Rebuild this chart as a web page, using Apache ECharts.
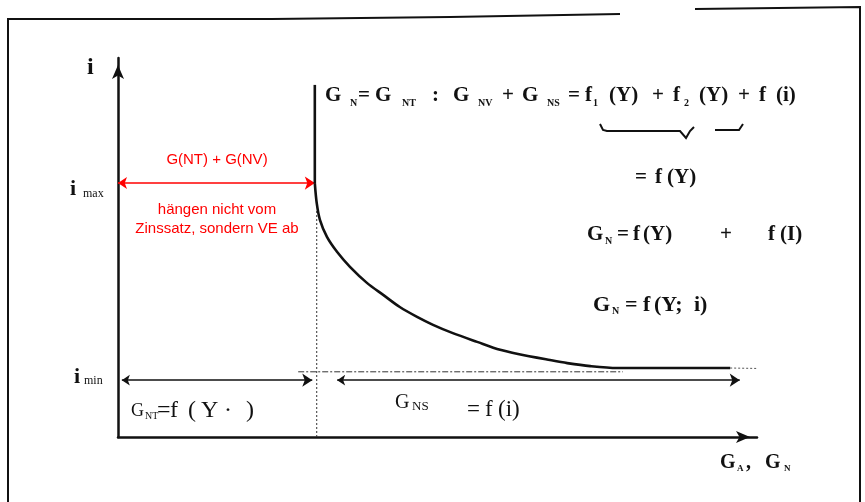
<!DOCTYPE html>
<html>
<head>
<meta charset="utf-8">
<script src="https://cdn.jsdelivr.net/npm/echarts@6/dist/echarts.min.js"></script>
<style>
  html, body { margin: 0; padding: 0; background: #ffffff; }
  #chart { width: 865px; height: 502px; }
</style>
</head>
<body>
<div id="chart"></div>
<script>
// Geldnachfrage G_N in Abhängigkeit vom Zinssatz i (Achsen ohne Skala, 0–100)
const verticalG = [30.8, 30.8];
const verticalI = [92.9, 67.0];
const demandG = [30.8, 31.1, 31.6, 32.7, 34.3, 36.3, 39.0, 41.5, 44.1, 46.8, 49.3, 52.4, 56.2, 59.8, 62.6, 67.6, 70.3, 73.9, 78.1, 95.8];
const demandI = [67.0, 61.7, 57.3, 52.8, 48.8, 44.9, 40.6, 37.5, 34.3, 31.7, 29.6, 27.4, 25.1, 23.0, 21.9, 20.3, 19.5, 18.7, 18.2, 18.2];
const tailG = [95.8, 103.3];
const tailI = [18.2, 18.0];

// Zinsniveaus, Transaktions-/Vorsichtskasse und Spekulationskasse
const iMax = 67.0;
const iMin = 17.2;
const gNT = 30.8;
const iMinLineG = [28.2, 79.0];
const bracketI = 15.0;
const bracketNT = [0.6, 30.4];
const bracketNS = [34.3, 97.3];
const dropLineG = 31.1;
const dropLineI = [0, 60.0];

const zip = (xs, ys) => xs.map((x, k) => [x, ys[k]]);

const SERIF = '"Liberation Serif", "DejaVu Serif", serif';
const SANS = '"Liberation Sans", Arial, sans-serif';
const INK = '#111111';

// einzelnes Textstück (Formelteil) an fester Position
function piece(x, y, text, size, weight) {
  return {
    type: 'text', x: x, y: y, silent: true,
    style: {
      text: text, fontFamily: SERIF, fontSize: size, fontWeight: weight || 'bold', fill: INK,
      align: 'left', textAlign: 'left', verticalAlign: 'middle', textVerticalAlign: 'middle'
    }
  };
}

// Formelzeile: [x, text, istIndex, eigeneGröße, eigenesGewicht]
function formula(y, size, parts, weight, subSize, subDy) {
  return parts.map(p => p[2]
    ? piece(p[0], y + (subDy || 7), p[1], subSize || 10, weight)
    : piece(p[0], y, p[1], p[3] || size, p[4] || weight));
}

function redTxt(x, y, text) {
  return {
    type: 'text', x: x, y: y, silent: true,
    style: {
      text: text, fontFamily: SANS, fontSize: 15, fill: '#ff0000',
      align: 'center', textAlign: 'center', verticalAlign: 'middle', textVerticalAlign: 'middle'
    }
  };
}

const chart = echarts.init(document.getElementById('chart'), null, { renderer: 'canvas' });

const axisCommon = {
  type: 'value', min: 0, max: 100,
  axisLine: { show: true, onZero: false, symbol: ['none', 'arrow'], symbolSize: [9, 14], symbolOffset: [0, -7], lineStyle: { color: INK, width: 2.5 } },
  axisTick: { show: false }, axisLabel: { show: false }, splitLine: { show: false }
};

const option = {
  backgroundColor: '#ffffff',
  animation: false,
  grid: { left: 118, right: 108, top: 58, bottom: 65 },
  xAxis: Object.assign({}, axisCommon),
  yAxis: Object.assign({}, axisCommon),
  series: [
    {
      type: 'line', data: zip(verticalG, verticalI), symbol: 'none', clip: false,
      lineStyle: { color: INK, width: 2.6 }, z: 5
    },
    {
      type: 'line', data: zip(demandG, demandI), smooth: 0.3,
      symbol: 'none', clip: false, lineStyle: { color: INK, width: 2.6 }, z: 5
    },
    {
      type: 'line', data: zip(tailG, tailI), symbol: 'none', clip: false,
      lineStyle: { color: '#555', width: 1, type: [2, 2] }
    },
    {
      type: 'line', data: zip(iMinLineG, [iMin, iMin]), symbol: 'none', clip: false,
      lineStyle: { color: '#333', width: 1, type: [6, 2, 2, 2] }
    },
    {
      type: 'line', data: zip([dropLineG, dropLineG], dropLineI), symbol: 'none', clip: false,
      lineStyle: { color: '#333', width: 1, type: [2, 2] }
    },
    {
      type: 'lines', coordinateSystem: 'cartesian2d', polyline: false,
      symbol: ['arrow', 'arrow'], symbolSize: [9, 10],
      lineStyle: { color: '#ff0000', width: 1.5, opacity: 1 },
      data: [{ coords: [[0, iMax], [gNT, iMax]] }]
    },
    {
      type: 'lines', coordinateSystem: 'cartesian2d', polyline: false,
      symbol: ['arrow', 'arrow'], symbolSize: [8, 10],
      lineStyle: { color: INK, width: 1.5, opacity: 1 },
      data: [
        { coords: [[bracketNT[0], bracketI], [bracketNT[1], bracketI]] },
        { coords: [[bracketNS[0], bracketI], [bracketNS[1], bracketI]] }
      ]
    }
  ],
  graphic: [].concat(
    // Rahmen
    [
      { type: 'polyline', silent: true, shape: { points: [[8, 502], [8, 19], [272, 19], [450, 17], [620, 14]] }, style: { stroke: INK, lineWidth: 2, fill: null } },
      { type: 'polyline', silent: true, shape: { points: [[695, 9], [860, 7], [860, 502]] }, style: { stroke: INK, lineWidth: 2, fill: null } }
    ],

    // Achsenbeschriftungen
    [piece(87, 68, 'i', 24)],
    formula(189, 22, [[70, 'i', false, 22, 'bold'], [83, 'max', true]], 'normal', 12, 5),
    formula(377, 22, [[74, 'i', false, 22, 'bold'], [84, 'min', true]], 'normal', 12, 4),
    formula(463, 20, [[720, 'G'], [737, 'A', true], [746, ','], [765, 'G'], [784, 'N', true]], 'bold', 9, 6),

    // Gesamte Geldnachfrage
    formula(96, 21, [
      [325, 'G'], [350, 'N', true], [358, '='], [375, 'G'], [402, 'NT', true], [432, ':'],
      [453, 'G'], [478, 'NV', true], [502, '+'], [522, 'G'], [547, 'NS', true], [568, '='],
      [585, 'f'], [593, '1', true], [609, '(Y)'], [652, '+'], [673, 'f'], [684, '2', true],
      [699, '(Y)'], [738, '+'], [759, 'f'], [776, '(i)']
    ], 'bold', 10, 7),
    [
      { type: 'polyline', silent: true, shape: { points: [[600, 124], [603, 130], [607, 131], [680, 131], [686, 138], [690, 131], [694, 127]] }, style: { stroke: INK, lineWidth: 2, fill: null } },
      { type: 'polyline', silent: true, shape: { points: [[715, 130], [739, 130], [743, 124]] }, style: { stroke: INK, lineWidth: 2, fill: null } }
    ],
    formula(178, 21, [[635, '='], [655, 'f'], [667, '(Y)']], 'bold'),
    formula(235, 21, [[587, 'G'], [605, 'N', true], [617, '='], [633, 'f'], [643, '(Y)'], [720, '+'], [768, 'f'], [780, '(I)']], 'bold', 10, 6),
    formula(305, 22, [[593, 'G'], [612, 'N', true], [625, '='], [643, 'f'], [654, '(Y;'], [694, 'i)']], 'bold', 10, 6),

    // Transaktions- und Spekulationskasse
    formula(411, 24, [[131, 'G', false, 18], [145, 'NT', true], [157, '='], [170, 'f'], [188, '('], [201, 'Y'], [224, '·'], [246, ')']], 'normal', 10, 5),
    formula(403, 20, [[395, 'G'], [412, 'NS', true]], 'normal', 13, 4),
    formula(410, 23, [[467, '='], [485, 'f'], [498, '(i)']], 'normal'),

    // rote Anmerkung
    [
      redTxt(217, 160, 'G(NT) + G(NV)'),
      redTxt(217, 210, 'hängen nicht vom'),
      redTxt(217, 229, 'Zinssatz, sondern VE ab')
    ]
  )
};

chart.setOption(option);
</script>
</body>
</html>
